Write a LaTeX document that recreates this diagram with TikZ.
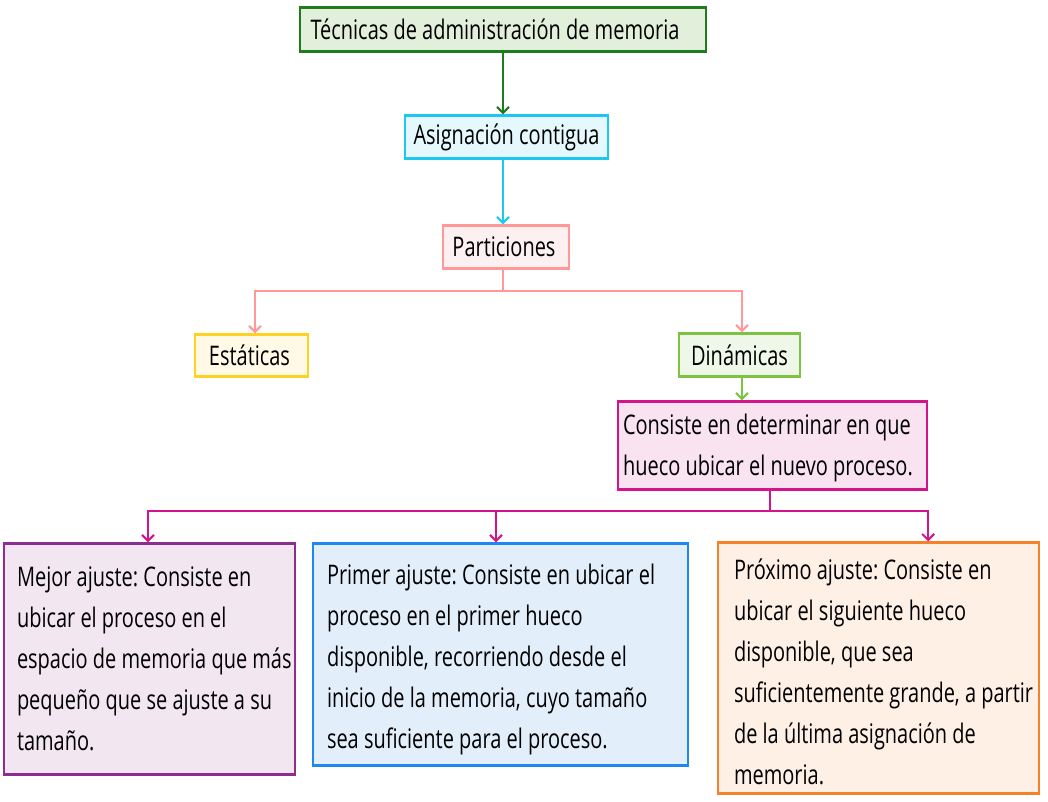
\documentclass[tikz,border=0pt]{standalone}
\usepackage{fontspec}
\setmainfont{Open Sans}[FakeStretch=0.74]
\usetikzlibrary{arrows.meta,calc}
\definecolor{gB}{HTML}{1E7B1E}\definecolor{gF}{HTML}{E2EFDA}
\definecolor{cB}{HTML}{1CC8F2}\definecolor{cF}{HTML}{E5F8FD}
\definecolor{pB}{HTML}{FF9999}\definecolor{pF}{HTML}{FDF0F0}
\definecolor{yB}{HTML}{FFD21F}\definecolor{yF}{HTML}{FFF9E5}
\definecolor{lB}{HTML}{7DC242}\definecolor{lF}{HTML}{EFF7E8}
\definecolor{mB}{HTML}{D4148A}\definecolor{mF}{HTML}{F9E3F1}
\definecolor{vB}{HTML}{8E2C90}\definecolor{vF}{HTML}{F2E6F0}
\definecolor{bB}{HTML}{1E88F0}\definecolor{bF}{HTML}{E3EEFB}
\definecolor{oB}{HTML}{F5822A}\definecolor{oF}{HTML}{FFF0E6}
\newcommand\fsA{\fontsize{27}{32}\selectfont\frenchspacing}
\newcommand\fsB{\fontsize{27}{41}\selectfont\frenchspacing}
\begin{document}
\begin{tikzpicture}[x=1pt,y=-1pt,
  box/.style={draw=#1B,fill=#1F,line width=2.4pt,inner sep=0pt,rectangle},
  single/.style={font=\fsA},
  multi/.style={font=\fsB,align=left,inner sep=0pt,anchor=west},
  conn/.style={line width=2pt,-{Straight Barb[length=6pt,width=12pt,line width=2pt]}},
  plain/.style={line width=2pt}]
\useasboundingbox (0,0) rectangle (1048,801);
\node[box=g,single,minimum width=406pt,minimum height=44pt] (tec) at (503,29.5) {Técnicas de administración de memoria\hspace*{16pt}};
\node[box=c,single,minimum width=203pt,minimum height=43pt] (asig) at (506.5,137) {Asignación contigua};
\node[box=p,single,minimum width=126pt,minimum height=43pt] (part) at (506,247) {Particiones\hspace*{4pt}};
\node[box=y,single,minimum width=113pt,minimum height=42pt] (est) at (251.5,355.5) {Estáticas\hspace*{4pt}};
\node[box=l,single,minimum width=121pt,minimum height=43pt] (din) at (739.5,355) {Dinámicas};
\node[box=m,minimum width=309pt,minimum height=88pt] (cons) at (772.5,445.5) {};
\node[multi] (consT) at ([xshift=6pt,yshift=-2pt]cons.west) {Consiste en determinar en que\\hueco ubicar el nuevo proceso.};
\node[box=v,minimum width=291pt,minimum height=231pt] (mej) at (149.5,659) {};
\node[multi] (mejT) at ([xshift=14pt,yshift=0pt]mej.west) {Mejor ajuste: Consiste en\\ubicar el proceso en el\\espacio de memoria que más\\pequeño que se ajuste a su\\tamaño.};
\node[box=b,minimum width=375pt,minimum height=222pt] (pri) at (500.5,654.5) {};
\node[multi] (priT) at ([xshift=15pt,yshift=-5pt]pri.west) {Primer ajuste: Consiste en ubicar el\\proceso en el primer hueco\\disponible, recorriendo desde el\\inicio de la memoria, cuyo tamaño\\sea suficiente para el proceso.};
\node[box=o,minimum width=321pt,minimum height=251pt] (prox) at (878.5,668) {};
\node[multi] (proxT) at ([xshift=17pt,yshift=-4pt]prox.west) {Próximo ajuste: Consiste en\\ubicar el siguiente hueco\\disponible, que sea\\suficientemente grande, a partir\\de la última asignación de\\memoria.};
% connectors
\draw[conn,draw=gB] (tec.south -| 503,0) -- (asig.north -| 503,0);
\draw[conn,draw=cB] (asig.south -| 503,0) -- (part.north -| 503,0);
\coordinate (pj) at (503,291);
\draw[plain,draw=pB] (part.south -| pj) -- (pj);
\draw[conn,draw=pB] (pj) -| (est.north -| 255,0);
\draw[conn,draw=pB] (pj) -| (din.north -| 742,0);
\draw[conn,draw=lB] (din.south -| 742,0) -- (cons.north -| 742,0);
\coordinate (cj) at (770,511);
\draw[plain,draw=mB] (cons.south -| cj) -- (cj);
\draw[conn,draw=mB] (cj) -| (mej.north -| 148,0);
\draw[conn,draw=mB] (cj) -| (pri.north -| 496,0);
\draw[conn,draw=mB] (cj) -| (prox.north -| cons.east);
\end{tikzpicture}
\end{document}
